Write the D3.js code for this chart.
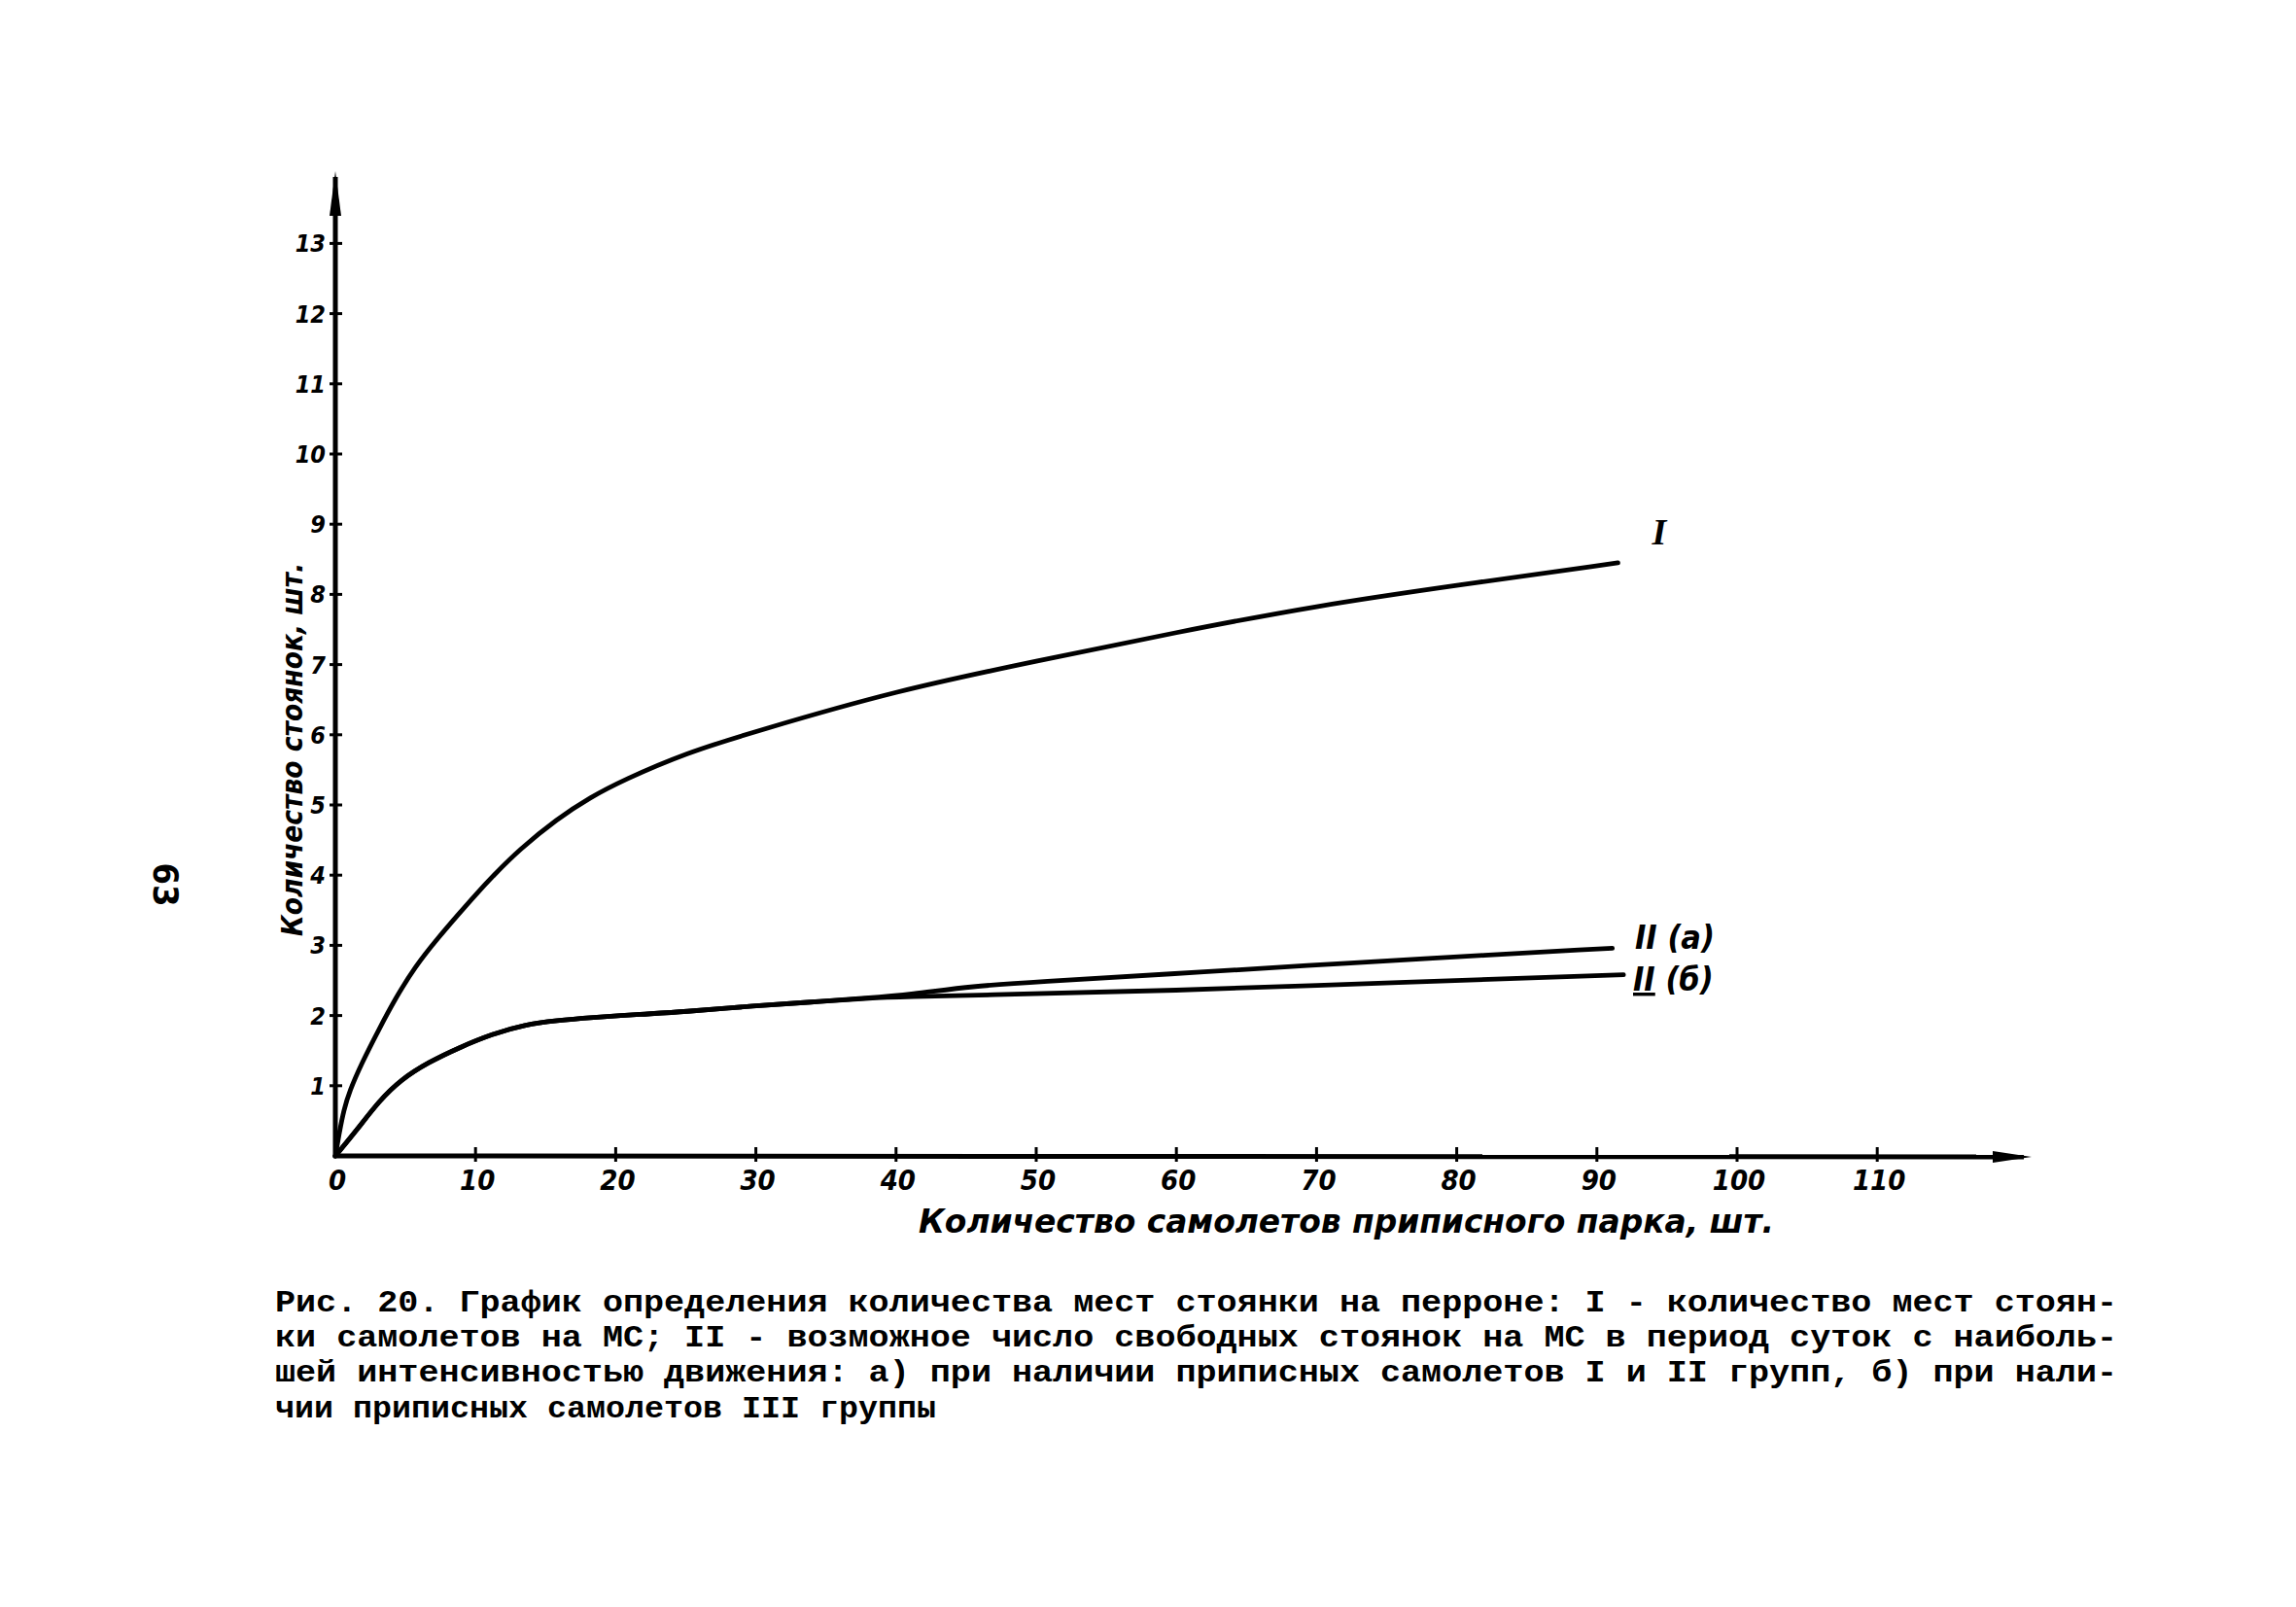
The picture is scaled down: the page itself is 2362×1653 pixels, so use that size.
<!DOCTYPE html>
<html><head><meta charset="utf-8">
<script src="https://cdn.jsdelivr.net/npm/d3@7"></script>
<style>
html,body{margin:0;padding:0;background:#fff;}
svg{display:block;}
.hand{font-family:"DejaVu Sans Condensed","Liberation Sans Narrow","DejaVu Sans",sans-serif;font-style:italic;font-weight:bold;fill:#000;}
.type{font-family:"Liberation Mono","DejaVu Sans Mono",monospace;font-weight:bold;fill:#000;}
</style></head>
<body>
<script>
// ---- data ----
const xTicks = [0,10,20,30,40,50,60,70,80,90,100,110];
const xTickLabels = ["0","10","20","30","40","50","60","70","80","90","100","110"];
const yTicks = [1,2,3,4,5,6,7,8,9,10,11,12,13];
const yTickLabels = ["1","2","3","4","5","6","7","8","9","10","11","12","13"];

const xI = [0,0.3,0.6,1,1.9,3.1,4.3,5.7,7.3,8.9,10,11.3,13.1,15.8,18.2,20.5,25,30,40,50,60,70,80,91.5];
const yI = [0,0.35,0.65,0.92,1.33,1.8,2.25,2.7,3.1,3.47,3.72,4.0,4.36,4.8,5.11,5.35,5.74,6.05,6.63,7.05,7.46,7.84,8.13,8.45];

const xIIa = [0,1.5,3.1,4.7,6.6,8.9,11.25,13.5,15.8,18.2,21.9,24.7,30,33.9,38,41,45.5,50,59.4,70,76.7,91.1];
const yIIa = [0,0.36,0.78,1.09,1.33,1.55,1.74,1.87,1.93,1.97,2.02,2.05,2.14,2.19,2.25,2.3,2.42,2.48,2.59,2.72,2.80,2.96];

const xIIb = [0,1.5,3.1,4.7,6.6,8.9,11.25,13.5,15.8,18.2,21.9,24.7,30,33.9,38,41,45.5,59.4,76.7,91.9];
const yIIb = [0,0.36,0.78,1.09,1.33,1.55,1.74,1.87,1.93,1.97,2.02,2.05,2.14,2.19,2.25,2.27,2.29,2.35,2.48,2.58];

const seriesLabels = ["I","II (а)","II (б)"];
const xTitle = "Количество самолетов приписного парка, шт.";
const yTitle = "Количество стоянок, шт.";
const caption = [
 "Рис. 20. График определения количества мест стоянки на перроне: I - количество мест стоян-",
 "ки самолетов на МС; II - возможное число свободных стоянок на МС в период суток с наиболь-",
 "шей интенсивностью движения: а) при наличии приписных самолетов I и II групп, б) при нали-",
 "чии приписных самолетов III группы"
];
const pageNumber = "63";

// ---- drawing ----
const W = 2362, H = 1653;
const svg = d3.select("body").append("svg").attr("width", W).attr("height", H);

const x = d3.scaleLinear().domain([0,110]).range([345, 345+110*14.42]);
const y = d3.scaleLinear().domain([0,13]).range([1189, 1189-13*72.2]);

const ink = "#000";
// axes lines with arrows
svg.append("line").attr("x1", x(0)).attr("y1", y(0)+2).attr("x2", x(0)).attr("y2", 182)
  .attr("stroke", ink).attr("stroke-width", 5);
svg.append("path").attr("d", `M${x(0)},176 L${x(0)-6},222 L${x(0)+6},222 Z`).attr("fill", ink);
svg.append("line").attr("x1", x(0)-2).attr("y1", y(0)).attr("x2", 2082).attr("y2", y(0)+1)
  .attr("stroke", ink).attr("stroke-width", 5);
svg.append("path").attr("d", `M2090,${y(0)+1} L2050,${y(0)-5} L2050,${y(0)+7} Z`).attr("fill", ink);

// ticks
svg.selectAll(".xt").data(xTicks.slice(1)).enter().append("line")
  .attr("x1", d=>x(d)).attr("x2", d=>x(d)).attr("y1", y(0)-9).attr("y2", y(0)+6)
  .attr("stroke", ink).attr("stroke-width", 3);
svg.selectAll(".yt").data(yTicks).enter().append("line")
  .attr("x1", x(0)-6).attr("x2", x(0)+7).attr("y1", d=>y(d)).attr("y2", d=>y(d))
  .attr("stroke", ink).attr("stroke-width", 3);

// tick labels
svg.selectAll(".xl").data(xTicks).enter().append("text").attr("class","hand")
  .attr("x", d=>x(d)+2).attr("y", y(0)+35).attr("text-anchor","middle")
  .attr("font-size", 29).text((d,i)=>xTickLabels[i]);
svg.selectAll(".yl").data(yTicks).enter().append("text").attr("class","hand")
  .attr("x", x(0)-10).attr("y", d=>y(d)+9).attr("text-anchor","end")
  .attr("font-size", 25).text((d,i)=>yTickLabels[i]);

// axis titles
svg.append("text").attr("class","hand").attr("x", 1385).attr("y", 1268)
  .attr("text-anchor","middle").attr("font-size", 34)
  .attr("textLength", 880).attr("lengthAdjust","spacingAndGlyphs").text(xTitle);
svg.append("text").attr("class","hand")
  .attr("transform","translate(311,771) rotate(-90)")
  .attr("text-anchor","middle").attr("font-size", 31)
  .attr("textLength", 384).attr("lengthAdjust","spacingAndGlyphs").text(yTitle);

// curves
const line = d3.line().x(d=>x(d[0])).y(d=>y(d[1])).curve(d3.curveBasis);
const series = [[xI,yI],[xIIa,yIIa],[xIIb,yIIb]];
series.forEach(([xs,ys])=>{
  svg.append("path").datum(xs.map((v,i)=>[v,ys[i]])).attr("d", line)
    .attr("fill","none").attr("stroke", ink).attr("stroke-width", 4.8)
    .attr("stroke-linecap","round").attr("stroke-linejoin","round");
});

// curve labels
svg.append("text").attr("class","hand").attr("x", 1707).attr("y", 560)
  .attr("text-anchor","middle").attr("font-size", 38)
  .style("font-family","'Liberation Serif', serif").text(seriesLabels[0]);
svg.append("text").attr("class","hand").attr("x", 1682).attr("y", 976)
  .attr("font-size", 34).text(seriesLabels[1]);
const lb = svg.append("text").attr("class","hand").attr("x", 1680).attr("y", 1019)
  .attr("font-size", 34);
lb.append("tspan").style("text-decoration","underline").text(seriesLabels[2].slice(0,2));
lb.append("tspan").text(seriesLabels[2].slice(2));

// page number
svg.append("text").attr("class","hand").attr("transform","translate(158,910) rotate(90)")
  .attr("text-anchor","middle").attr("font-size", 36)
  .style("font-style","normal").style("font-weight","bold").text(pageNumber);

// caption
const capBase = [1349,1385,1421,1458];
caption.forEach((t,i)=>{
  const tx = svg.append("text").attr("class","type").attr("x", 283).attr("y", capBase[i])
    .attr("font-size", 32).text(t);
  tx.attr("textLength", i < 3 ? 1895 : 680).attr("lengthAdjust","spacingAndGlyphs");
});
</script>
</body></html>
